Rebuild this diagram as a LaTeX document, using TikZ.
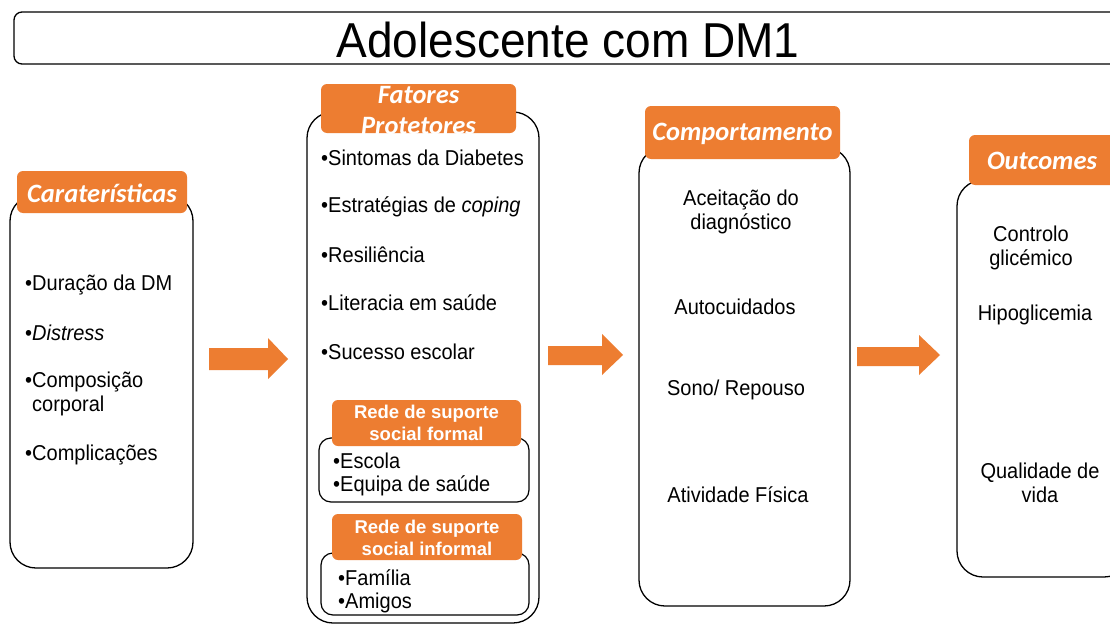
\documentclass[tikz,border=0pt]{standalone}
\usepackage{fontspec}
\setmainfont{Liberation Sans}
\newfontfamily\hdrfont{Carlito}
\newfontfamily\bodyfont{Liberation Sans}[FakeStretch=0.93]
\newfontfamily\titlefont{Liberation Sans}[FakeStretch=0.94]
\definecolor{orng}{HTML}{ED7D31}
\begin{document}
\begin{tikzpicture}[x=1pt,y=-1pt,
  outerbox/.style={draw=black, line width=1.3pt, rounded corners=26pt, minimum width=#1, outer sep=0pt, inner sep=0pt},
  subbox/.style={draw=black, line width=1.2pt, rounded corners=12pt, outer sep=0pt, inner sep=0pt},
  hdr/.style={fill=orng, rounded corners=6pt, outer sep=0pt, inner sep=0pt},
  hdrtext/.style={text=white, font=\hdrfont\fontsize{26.5}{31}\selectfont\bfseries\itshape, align=center, inner sep=0pt},
  subhdrtext/.style={text=white, font=\fontsize{18.5}{22}\selectfont\bfseries, align=center, inner sep=0pt},
  item/.style={anchor=west, font=\bodyfont\fontsize{21.5}{24}\selectfont, inner sep=0pt, align=left},
  citem/.style={anchor=center, font=\bodyfont\fontsize{21.5}{24}\selectfont, inner sep=0pt, align=center},
  blockarrow/.style={fill=orng}
]
\clip (0,0) rectangle (1110,626);
\fill[white] (0,0) rectangle (1110,626);

% title
\node[draw=black, line width=1.3pt, rounded corners=8pt, minimum width=1106pt, minimum height=52pt, inner sep=0pt] (title) at (567,38) {};
\node[font=\titlefont\fontsize{49}{50}\selectfont, inner sep=0pt] (titletext) at (568,40) {Adolescente com DM1};

% box 1
\node[outerbox=183pt, minimum height=373pt] (b1) at (101.5,381.5) {};
\node[hdr, minimum width=170pt, minimum height=42pt] (h1) at (102,192) {};
\node[hdrtext] (h1t) at (102,193) {Caraterísticas};
\node[item] (b1a) at (25,285) {•Duração da DM};
\node[item] (b1b) at (25,333) {•\textit{Distress}};
\node[item] (b1c) at (25,394) {•Composição\\\phantom{•}corporal};
\node[item] (b1d) at (25,455) {•Complicações};

% box 2
\node[outerbox=232pt, minimum height=511pt] (b2) at (423,367.5) {};
\node[hdr, minimum width=195pt, minimum height=49pt] (h2) at (418.5,108.5) {};
\node[hdrtext] (h2t) at (418.5,111) {Fatores\\Protetores};
\node[item] (b2a) at (321,158) {•Sintomas da Diabetes};
\node[item] (b2b) at (321,207) {•Estratégias de \textit{coping}};
\node[item] (b2c) at (321,255) {•Resiliência};
\node[item] (b2d) at (321,303) {•Literacia em saúde};
\node[item] (b2e) at (321,352) {•Sucesso escolar};

\node[subbox, minimum width=210pt, minimum height=64pt] (fb) at (424,470) {};
\node[hdr, minimum width=189pt, minimum height=46pt] (fh) at (426.5,423) {};
\node[subhdrtext] (fht) at (426.5,423) {Rede de suporte\\social formal};
\node[item] (fa) at (333,461) {•Escola};
\node[item] (fbb) at (333,486) {•Equipa de saúde};

\node[subbox, minimum width=208pt, minimum height=62pt] (ib) at (425,584) {};
\node[hdr, minimum width=190pt, minimum height=46pt] (ih) at (427,537) {};
\node[subhdrtext] (iht) at (427,537.5) {Rede de suporte\\social informal};
\node[item] (ia) at (338,578) {•Família};
\node[item] (ibb) at (338,603) {•Amigos};

% box 3
\node[outerbox=211pt, minimum height=459pt] (b3) at (744.5,376.5) {};
\node[hdr, minimum width=195pt, minimum height=53pt] (h3) at (742.5,132.5) {};
\node[hdrtext] (h3t) at (742.5,134) {Comportamento};
\node[citem] (b3a) at (741,212) {Aceitação do\\diagnóstico};
\node[citem] (b3b) at (735,307) {Autocuidados};
\node[citem] (b3c) at (736,390) {Sono/ Repouso};
\node[citem] (b3d) at (738,495) {Atividade Física};

% box 4
\node[outerbox=173pt, minimum height=397pt] (b4) at (1043.5,378.5) {};
\node[hdr, minimum width=150pt, minimum height=50pt] (h4) at (1044,160) {};
\node[hdrtext] (h4t) at (1042,161) {Outcomes};
\node[citem] (b4a) at (1031,248) {Controlo\\glicémico};
\node[citem] (b4b) at (1035,315) {Hipoglicemia};
\node[citem] (b4c) at (1040,483) {Qualidade de\\vida};

% block arrows
\fill[blockarrow] (209,348) -- (268,348) -- (268,338) -- (288,359) -- (268,379) -- (268,370) -- (209,370) -- cycle;
\fill[blockarrow] (548,346) -- (602,346) -- (602,334) -- (623,355) -- (602,375) -- (602,365) -- (548,365) -- cycle;
\fill[blockarrow] (857,347) -- (919,347) -- (919,335) -- (940,355) -- (919,375) -- (919,366) -- (857,366) -- cycle;
\end{tikzpicture}
\end{document}
